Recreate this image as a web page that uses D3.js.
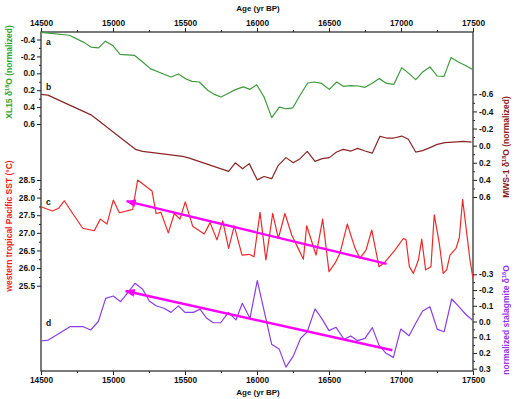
<!DOCTYPE html>
<html>
<head>
<meta charset="utf-8">
<script src="https://cdn.jsdelivr.net/npm/d3@7"></script>
<style>
  body { margin: 0; background: #fff; }
  svg { font-family: "Liberation Sans", Arial, sans-serif; font-weight: bold; }
</style>
</head>
<body>
<script>
// a: XL15 d18O (normalized)
const ageA = [14500, 14697, 14801, 14847, 14900, 14947, 14998, 15049, 15148, 15206, 15259, 15333, 15403, 15454, 15507, 15549, 15599, 15658, 15704, 15750, 15808, 15854, 15905, 15951, 15998, 16049, 16102, 16155, 16201, 16248, 16299, 16352, 16398, 16449, 16502, 16553, 16599, 16653, 16703, 16750, 16803, 16849, 16900, 16951, 17005, 17056, 17102, 17150, 17201, 17252, 17299, 17347, 17398, 17444, 17495]
const xl15 = [-0.485, -0.45, -0.363, -0.31, -0.30, -0.38, -0.33, -0.225, -0.213, -0.134, -0.055, -0.004, 0.044, 0.008, 0.067, 0.095, 0.103, 0.20, 0.25, 0.28, 0.23, 0.19, 0.16, 0.19, 0.135, 0.28, 0.525, 0.40, 0.42, 0.41, 0.26, 0.115, 0.103, 0.12, 0.19, 0.103, 0.154, 0.146, 0.15, 0.166, 0.115, 0.063, 0.12, 0.13, -0.067, 0.004, 0.075, -0.015, -0.075, 0.032, 0.036, -0.186, -0.134, -0.095, -0.047]

// b: MWS-1 d18O (normalized)
const ageB = [14500, 14548, 14847, 15160, 15206, 15484, 15530, 15803, 15849, 15900, 15946, 16002, 16049, 16102, 16148, 16201, 16252, 16299, 16349, 16403, 16453, 16502, 16553, 16599, 16653, 16699, 16750, 16801, 16854, 16900, 16951, 17005, 17051, 17102, 17150, 17201, 17252, 17305, 17363, 17432, 17490]
const mws1 = [-0.60, -0.59, -0.36, 0.047, 0.067, 0.125, 0.145, 0.30, 0.20, 0.27, 0.21, 0.40, 0.36, 0.386, 0.23, 0.14, 0.20, 0.152, 0.067, 0.184, 0.152, 0.14, 0.075, 0.043, 0.063, 0.032, 0.063, 0.087, -0.109, -0.089, -0.089, -0.112, -0.074, 0.075, 0.058, 0.023, -0.015, -0.035, -0.042, -0.05, -0.042]

// c: western tropical Pacific SST
const ageC = [14500, 14579, 14623, 14662, 14720, 14790, 14870, 14912, 14958, 15002, 15044, 15125, 15137, 15171, 15271, 15299, 15333, 15384, 15426, 15465, 15502, 15553, 15634, 15674, 15722, 15762, 15803, 15842, 15896, 15946, 15979, 16021, 16062, 16109, 16148, 16194, 16241, 16292, 16322, 16345, 16410, 16456, 16500, 16542, 16576, 16627, 16681, 16715, 16757, 16797, 16847, 16884, 16958, 17016, 17035, 17058, 17086, 17121, 17144, 17171, 17208, 17231, 17266, 17293, 17317, 17340, 17382, 17405, 17428, 17479, 17500]
const sst = [27.74, 27.62, 27.70, 27.91, 27.55, 27.13, 27.06, 27.39, 27.25, 27.93, 27.57, 27.65, 27.67, 28.50, 28.19, 27.55, 27.58, 27.00, 27.55, 27.39, 27.88, 27.19, 26.97, 27.29, 26.80, 27.34, 26.56, 27.20, 26.37, 26.39, 26.32, 27.58, 26.23, 27.55, 26.84, 27.55, 26.94, 26.51, 26.25, 27.20, 26.37, 27.39, 25.90, 26.14, 26.42, 27.25, 26.56, 26.28, 26.51, 27.08, 26.04, 26.15, 26.51, 26.84, 26.80, 26.04, 25.85, 26.23, 26.82, 25.95, 26.04, 27.51, 26.70, 25.85, 25.95, 26.37, 26.56, 26.86, 27.95, 26.23, 25.71]

// d: normalized stalagmite d18O
const ageD = [14500, 14551, 14701, 14794, 14845, 14898, 14949, 15002, 15053, 15099, 15153, 15206, 15252, 15299, 15354, 15403, 15454, 15500, 15558, 15604, 15651, 15697, 15748, 15801, 15854, 15898, 15951, 16002, 16102, 16155, 16201, 16252, 16303, 16349, 16403, 16449, 16500, 16549, 16604, 16651, 16699, 16750, 16801, 16847, 16896, 16947, 16998, 17056, 17104, 17150, 17201, 17252, 17300, 17352, 17402, 17449, 17495]
const stal = [0.124, 0.118, 0.033, 0.033, 0.054, 0.0, -0.147, -0.162, -0.126, -0.179, -0.243, -0.205, -0.13, -0.10, -0.084, -0.058, -0.099, -0.058, -0.058, -0.078, -0.02, 0.008, 0.008, -0.058, -0.01, -0.116, -0.02, -0.26, 0.145, 0.177, 0.29, 0.22, 0.107, 0.065, -0.08, -0.02, 0.058, 0.037, 0.113, 0.092, 0.122, 0.107, 0.039, 0.15, 0.202, 0.228, 0.048, 0.09, 0.008, -0.067, -0.094, 0.05, 0.065, -0.143, -0.094, -0.046, -0.01]

// trend arrows (tail -> head), in data units
const arrowC = [[16900, 26.12], [15095, 27.90]]
const arrowD = [[16940, 0.183], [15088, -0.194]]

const ageTicks = [14500, 15000, 15500, 16000, 16500, 17000, 17500]
const ageMinor = [14750, 15250, 15750, 16250, 16750, 17250]

const W = 520, H = 399
const plotL = 41, plotR = 473, plotT = 32, plotB = 371

const svg = d3.select('body')
    .append('svg')
    .attr('width', W)
    .attr('height', H)

const x = d3.scaleLinear().domain([14500, 17500]).range([plotL, plotR])
const ya = d3.scaleLinear().domain([-0.4, 0.6]).range([39.5, 124])
const yb = d3.scaleLinear().domain([-0.6, 0.6]).range([94.3, 197])
const yc = d3.scaleLinear().domain([25.5, 28.5]).range([285.7, 180])
const yd = d3.scaleLinear().domain([-0.3, 0.3]).range([274.3, 368.7])

const fmt1 = (d) => {
    const s = d.toFixed(1)
    return s === '-0.0' ? '0.0' : s
}

// major + minor ticks for one axis
function drawAxis(axisFn, scale, major, minor, fmt, transform) {
    const g = svg.append('g').attr('transform', transform)
    g.call(axisFn(scale).tickValues(major).tickSize(4).tickPadding(2).tickFormat(fmt))
    g.append('g').call(axisFn(scale).tickValues(minor).tickSize(2).tickFormat(''))
    g.selectAll('.domain').remove()
    g.selectAll('line').attr('stroke', '#222').attr('stroke-width', 1)
    g.selectAll('text')
        .attr('fill', '#111')
        .style('font-size', '8.3px')
        .style('font-weight', 'bold')
        .style('font-family', '"Liberation Sans", Arial, sans-serif')
    return g
}

drawAxis(d3.axisTop, x, ageTicks, ageMinor, d3.format('d'), `translate(0,${plotT})`)
drawAxis(d3.axisBottom, x, ageTicks, ageMinor, d3.format('d'), `translate(0,${plotB})`)

drawAxis(d3.axisLeft, ya, d3.range(-0.4, 0.61, 0.2), d3.range(-0.3, 0.6, 0.2), fmt1, `translate(${plotL},0)`)
drawAxis(d3.axisRight, yb, d3.range(-0.6, 0.61, 0.2), d3.range(-0.5, 0.6, 0.2), fmt1, `translate(${plotR},0)`)
drawAxis(d3.axisLeft, yc, d3.range(25.5, 28.51, 0.5), d3.range(25.75, 28.5, 0.5), fmt1, `translate(${plotL},0)`)
drawAxis(d3.axisRight, yd, d3.range(-0.3, 0.31, 0.1), d3.range(-0.25, 0.3, 0.1), fmt1, `translate(${plotR},0)`)

// frame
svg.append('rect')
    .attr('x', plotL)
    .attr('y', plotT)
    .attr('width', plotR - plotL)
    .attr('height', plotB - plotT)
    .attr('fill', 'none')
    .attr('stroke', '#333')
    .attr('stroke-width', 1.3)

// series
const series = [
    { age: ageA, val: xl15, y: ya, color: '#3c9c3c' },
    { age: ageB, val: mws1, y: yb, color: '#8b2626' },
    { age: ageC, val: sst, y: yc, color: '#ee2a2a' },
    { age: ageD, val: stal, y: yd, color: '#8a3ee8' }
]

series.forEach((s) => {
    const line = d3.line()
        .x((d, i) => x(s.age[i]))
        .y((d) => s.y(d))
    svg.append('path')
        .datum(s.val)
        .attr('d', line)
        .attr('fill', 'none')
        .attr('stroke', s.color)
        .attr('stroke-width', 1.2)
        .attr('stroke-linejoin', 'round')
})

// magenta arrows
svg.append('defs')
    .append('marker')
    .attr('id', 'head')
    .attr('viewBox', '0 0 10 8')
    .attr('refX', 9)
    .attr('refY', 4)
    .attr('markerWidth', 10)
    .attr('markerHeight', 8)
    .attr('markerUnits', 'userSpaceOnUse')
    .attr('orient', 'auto')
    .append('path')
    .attr('d', 'M0,0 L10,4 L0,8 Z')
    .attr('fill', '#ff00ff')

const arrows = [
    { pts: arrowC, y: yc },
    { pts: arrowD, y: yd }
]
arrows.forEach((a) => {
    svg.append('line')
        .attr('x1', x(a.pts[0][0]))
        .attr('y1', a.y(a.pts[0][1]))
        .attr('x2', x(a.pts[1][0]))
        .attr('y2', a.y(a.pts[1][1]))
        .attr('stroke', '#ff00ff')
        .attr('stroke-width', 2.4)
        .attr('marker-end', 'url(#head)')
})

// panel letters
const letters = [['a', 44.5], ['b', 90], ['c', 205], ['d', 326]]
letters.forEach((l) => {
    svg.append('text')
        .attr('x', 46)
        .attr('y', l[1])
        .style('font-size', '8.5px')
        .attr('fill', '#111')
        .text(l[0])
})

// axis titles
const ageTitle = (yPos) => svg.append('text')
    .attr('x', 258)
    .attr('y', yPos)
    .attr('text-anchor', 'middle')
    .style('font-size', '8px')
    .attr('fill', '#111')
    .text('Age (yr BP)')
ageTitle(11)
ageTitle(395)

function sideTitle(xPos, yPos, color, parts) {
    const t = svg.append('text')
        .attr('transform', `translate(${xPos},${yPos}) rotate(-90)`)
        .attr('text-anchor', 'middle')
        .style('font-size', '8.5px')
        .attr('fill', color)
    parts.forEach((p) => {
        const span = t.append('tspan').text(p[0])
        if (p[1] === 'sup') span.attr('dy', -3).style('font-size', '5.5px')
        if (p[1] === 'base') span.attr('dy', 3)
    })
}

sideTitle(12, 72, '#2fa52f', [['XL15 δ'], ['18', 'sup'], ['O (normalized)', 'base']])
sideTitle(12, 226, '#ee1c1c', [['western tropical Pacific SST (°C)']])
sideTitle(509, 147, '#8b1a1a', [['MWS-1 δ'], ['18', 'sup'], ['O (normalized)', 'base']])
sideTitle(509, 320, '#9436f0', [['normalized stalagmite δ'], ['18', 'sup'], ['O', 'base']])
</script>
</body>
</html>
